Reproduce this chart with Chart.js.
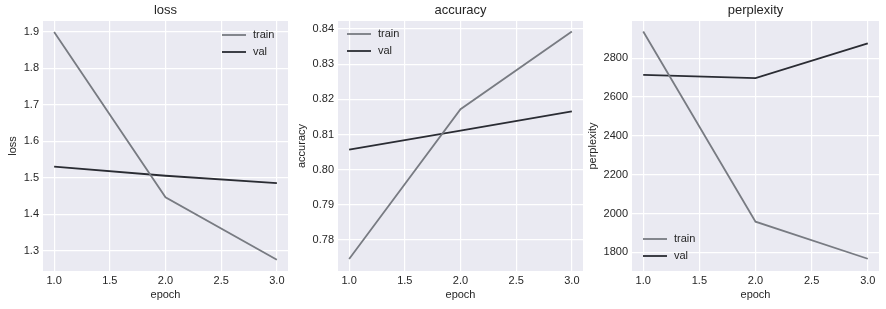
<!DOCTYPE html>
<html>
<head>
<meta charset="utf-8">
<script src="https://cdn.jsdelivr.net/npm/chart.js@4.4.0/dist/chart.umd.min.js"></script>
<style>
  body { margin: 0; background: #fff; }
  .panel { position: absolute; top: 0; height: 309px; }
</style>
</head>
<body>
<div class="panel" style="left:0;width:295px"><canvas id="c_loss"></canvas></div>
<div class="panel" style="left:295px;width:295px"><canvas id="c_acc"></canvas></div>
<div class="panel" style="left:585px;width:301px"><canvas id="c_ppl"></canvas></div>
<script>
// data
var epochs = [1, 2, 3];
var epochTicks = [1.0, 1.5, 2.0, 2.5, 3.0];

var lossTrain = [1.900, 1.447, 1.276];
var lossVal = [1.531, 1.506, 1.486];
var lossTicks = [1.3, 1.4, 1.5, 1.6, 1.7, 1.8, 1.9];

var accTrain = [0.7746, 0.8172, 0.8393];
var accVal = [0.8057, 0.8111, 0.8166];
var accTicks = [0.78, 0.79, 0.80, 0.81, 0.82, 0.83, 0.84];

var pplTrain = [2937, 1958, 1767];
var pplVal = [2714, 2697, 2876];
var pplTicks = [1800, 2000, 2200, 2400, 2600, 2800];

var FONT = "'Liberation Sans', Arial, sans-serif";
var TRAIN_COLOR = '#787b82';
var VAL_COLOR = '#2a2c33';

// background, title and in-plot legend
var seabornPlugin = {
    id: 'seaborn',
    beforeDraw: function(chart) {
        var a = chart.chartArea, ctx = chart.ctx;
        ctx.save();
        ctx.fillStyle = '#eaeaf2';
        ctx.fillRect(a.left, a.top, a.right - a.left, a.bottom - a.top);
        ctx.restore();
    },
    afterDraw: function(chart) {
        var a = chart.chartArea, ctx = chart.ctx;
        var o = chart.options.plugins.seaborn;
        ctx.save();
        ctx.fillStyle = '#262626';
        ctx.font = '13px ' + FONT;
        ctx.textAlign = 'center';
        ctx.textBaseline = 'middle';
        ctx.fillText(o.title, (a.left + a.right) / 2, 10);

        ctx.font = '11px ' + FONT;
        ctx.textAlign = 'left';
        chart.data.datasets.forEach(function(ds, i) {
            var x = a.left + o.legendX;
            var y = a.top + o.legendY + i * 17;
            ctx.strokeStyle = ds.borderColor;
            ctx.lineWidth = 1.8;
            ctx.beginPath();
            ctx.moveTo(x, y);
            ctx.lineTo(x + 24, y);
            ctx.stroke();
            ctx.fillStyle = '#262626';
            ctx.fillText(ds.label, x + 31, y);
        });
        ctx.restore();
    }
};

function makeChart(id, title, train, val, yTicks, yMin, yMax, yDecimals, yWidth, yTitlePad, legendX, legendY) {
    return new Chart(document.getElementById(id), {
        type: 'line',
        data: {
            datasets: [{
                label: 'train',
                data: epochs.map(function(e, i) { return {x: e, y: train[i]}; }),
                borderColor: TRAIN_COLOR,
                borderWidth: 1.8,
                pointRadius: 0,
                tension: 0
            }, {
                label: 'val',
                data: epochs.map(function(e, i) { return {x: e, y: val[i]}; }),
                borderColor: VAL_COLOR,
                borderWidth: 1.8,
                pointRadius: 0,
                tension: 0
            }]
        },
        options: {
            responsive: false,
            animation: false,
            layout: { padding: { top: 21, right: 7, left: 0, bottom: 0 } },
            plugins: {
                legend: { display: false },
                tooltip: { enabled: false },
                seaborn: { title: title, legendX: legendX, legendY: legendY }
            },
            scales: {
                x: {
                    type: 'linear',
                    min: 0.9,
                    max: 3.1,
                    afterBuildTicks: function(scale) {
                        scale.ticks = epochTicks.map(function(v) { return {value: v}; });
                    },
                    afterFit: function(scale) { scale.height = 38; },
                    grid: { color: '#ffffff', lineWidth: 1.2, drawTicks: false },
                    border: { display: false },
                    ticks: {
                        color: '#262626',
                        font: { family: FONT, size: 11 },
                        padding: 3,
                        maxRotation: 0,
                        callback: function(v) { return v.toFixed(1); }
                    },
                    title: {
                        display: true, text: 'epoch', color: '#262626',
                        font: { family: FONT, size: 11 }, padding: { top: 1, bottom: 7 }
                    }
                },
                y: {
                    min: yMin,
                    max: yMax,
                    afterBuildTicks: function(scale) {
                        scale.ticks = yTicks.map(function(v) { return {value: v}; });
                    },
                    afterFit: function(scale) { scale.width = yWidth; },
                    grid: { color: '#ffffff', lineWidth: 1.2, drawTicks: false },
                    border: { display: false },
                    ticks: {
                        color: '#262626',
                        font: { family: FONT, size: 11 },
                        padding: 4,
                        callback: function(v) { return v.toFixed(yDecimals); }
                    },
                    title: {
                        display: true, text: title, color: '#262626',
                        font: { family: FONT, size: 11 }, padding: { top: yTitlePad, bottom: 2 }
                    }
                }
            }
        },
        plugins: [seabornPlugin]
    });
}

function sizeCanvas(id, w) {
    var c = document.getElementById(id);
    c.width = w; c.height = 309;
    c.style.width = w + 'px'; c.style.height = '309px';
}
sizeCanvas('c_loss', 295);
sizeCanvas('c_acc', 295);
sizeCanvas('c_ppl', 301);

makeChart('c_loss', 'loss', lossTrain, lossVal, lossTicks, 1.245, 1.93, 1, 43, 6.5, 179, 14);
makeChart('c_acc', 'accuracy', accTrain, accVal, accTicks, 0.7712, 0.8423, 2, 43, 0, 9, 13);
makeChart('c_ppl', 'perplexity', pplTrain, pplVal, pplTicks, 1704, 2991, 0, 47, 1.5, 11, 218);
</script>
</body>
</html>
